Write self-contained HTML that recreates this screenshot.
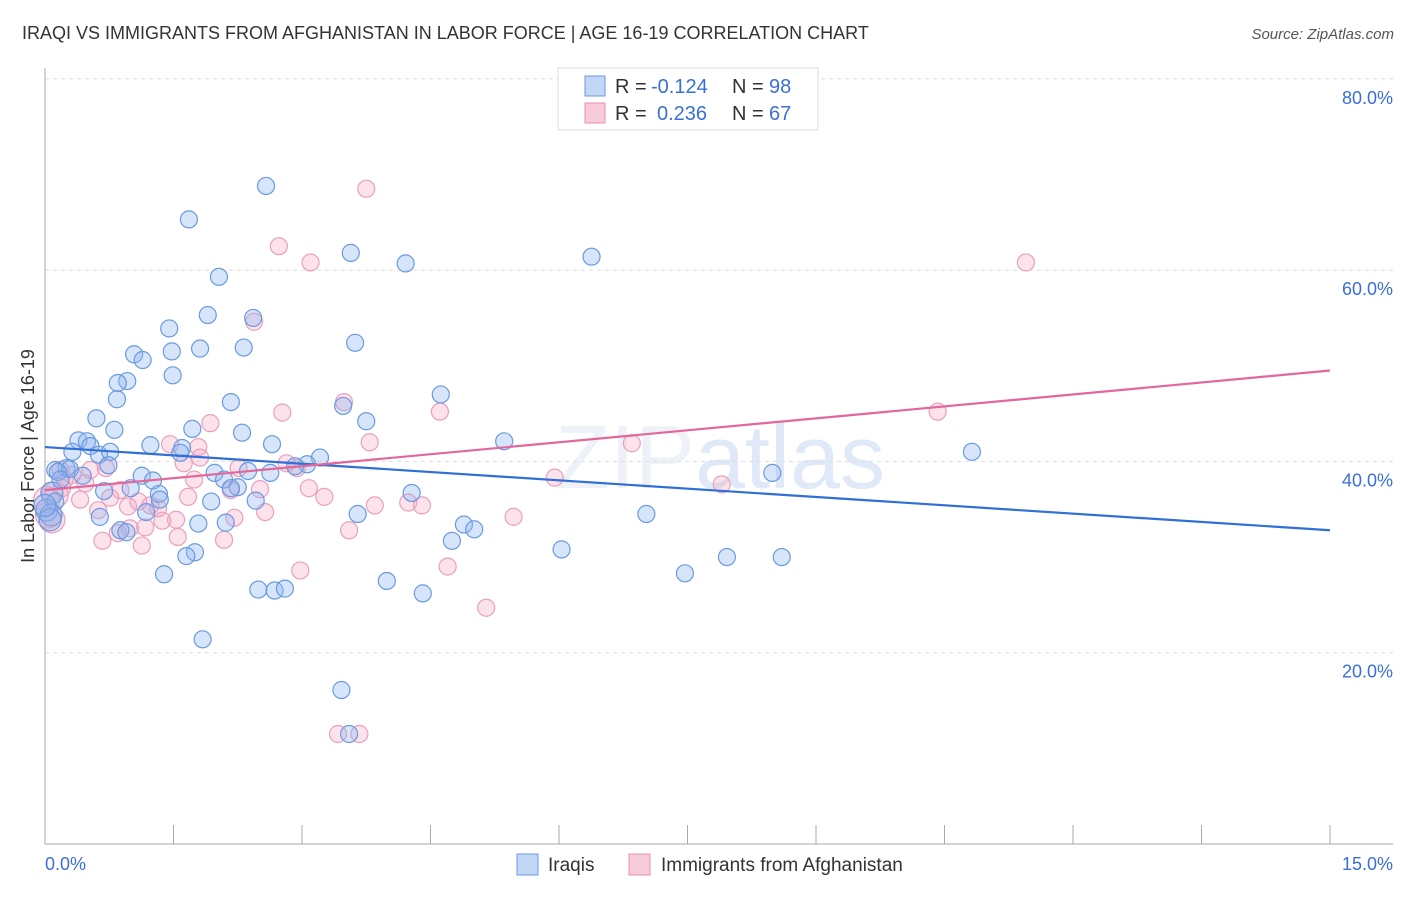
<!DOCTYPE html>
<html><head><meta charset="utf-8"><style>
body{margin:0;background:#fff;font-family:"Liberation Sans",sans-serif;}
svg text{font-family:"Liberation Sans",sans-serif;}
</style></head><body>
<svg id="chart" width="1406" height="892" xmlns="http://www.w3.org/2000/svg">
<text x="22" y="39" font-size="18" fill="#333">IRAQI VS IMMIGRANTS FROM AFGHANISTAN IN LABOR FORCE | AGE 16-19 CORRELATION CHART</text>
<text x="1394" y="39" font-size="15" fill="#555" text-anchor="end" font-style="italic">Source: ZipAtlas.com</text>
<text x="720" y="488" font-size="90" fill="#eef2f8" text-anchor="middle" font-family="Liberation Serif">ZIP<tspan fill="#dfe9f7" font-family="Liberation Sans">atlas</tspan></text>
<g id="grid"></g>
<g id="axes"></g>
<g id="marks"></g>
<g>
<rect x="558" y="68" width="260" height="62" fill="#fff" stroke="#ddd"/>
<rect x="585" y="76" width="20" height="20" fill="#c2d6f6" stroke="#6a9ae0"/>
<text x="615" y="93" font-size="20" fill="#333">R =</text>
<text x="651" y="93" font-size="20" fill="#3a6fd8">-0.124</text>
<text x="732" y="93" font-size="20" fill="#333">N =</text>
<text x="769" y="93" font-size="20" fill="#3a6fd8">98</text>
<rect x="585" y="103" width="20" height="20" fill="#f8cbd9" stroke="#e890b0"/>
<text x="615" y="120" font-size="20" fill="#333">R =</text>
<text x="657" y="120" font-size="20" fill="#3a6fd8">0.236</text>
<text x="732" y="120" font-size="20" fill="#333">N =</text>
<text x="769" y="120" font-size="20" fill="#3a6fd8">67</text>
</g>
<g>
<rect x="517" y="854" width="21" height="21" fill="#c2d6f6" stroke="#6a9ae0"/>
<text x="548" y="871" font-size="19" fill="#333">Iraqis</text>
<rect x="629" y="854" width="21" height="21" fill="#f8cbd9" stroke="#e890b0"/>
<text x="661" y="871" font-size="19" fill="#333">Immigrants from Afghanistan</text>
</g>
<text transform="translate(34,456) rotate(-90)" font-size="18" fill="#333" text-anchor="middle">In Labor Force | Age 16-19</text>
</svg>
<script>
const yTicks=[20,40,60,80];
const yTickLabels=["20.0%","40.0%","60.0%","80.0%"];
const xTicks=[0,1.5,3,4.5,6,7.5,9,10.5,12,13.5,15];
const iraqX=[2.58,1.68,3.57,4.21,6.38,2.03,1.90,2.43,1.45,3.62,2.32,1.04,1.81,1.48,1.14,0.96,1.49,0.85,0.84,4.62,2.17,3.48,3.75,0.60,2.30,0.81,0.39,0.49,0.53,1.23,1.60,1.58,1.72,2.65,5.36,10.82,0.32,0.63,0.76,0.25,0.12,0.29,0.15,0.44,0.74,1.13,3.21,3.06,2.92,1.26,1.98,2.09,2.37,2.63,1.00,0.69,2.25,2.17,1.33,0.08,8.49,4.28,0.12,0.02,1.34,1.18,0.64,1.94,2.46,3.65,0.88,0.95,1.79,2.11,4.89,5.01,7.02,4.75,6.03,1.75,1.65,7.96,8.60,1.39,7.47,3.99,2.49,2.68,2.80,4.41,1.84,3.46,3.55,0.07,0.06,0.0,0.18];
const iraqY=[68.8,65.3,61.8,60.7,61.4,59.3,55.3,55.0,53.9,52.4,51.9,51.2,51.8,51.5,50.6,48.4,49.0,48.2,46.5,47.0,46.2,45.8,44.2,44.5,43.0,43.3,42.2,42.1,41.6,41.7,41.4,40.9,43.4,41.8,42.1,41.0,41.0,40.7,41.0,39.3,39.1,39.2,38.9,38.5,39.6,38.5,40.4,39.7,39.5,38.0,38.8,38.1,39.0,38.8,37.2,36.9,37.3,37.2,36.6,36.7,38.8,36.7,35.8,34.9,36.0,34.7,34.2,35.8,35.9,34.5,32.8,32.6,33.5,33.6,33.4,32.9,34.5,31.7,30.8,30.5,30.1,30.0,30.0,28.2,28.3,27.5,26.6,26.5,26.7,26.2,21.4,16.1,11.5,34.4,33.9,35.4,38.1];
const afgX=[3.75,2.73,3.10,11.45,2.44,1.93,2.77,3.49,4.61,10.42,3.79,6.85,1.46,1.79,1.62,1.81,2.26,2.82,2.94,0.53,0.71,0.18,0.32,0.23,0.47,0.88,2.51,5.95,7.90,1.74,3.08,3.26,1.67,2.17,0.41,0.76,1.09,1.23,1.32,3.85,4.24,4.40,5.47,2.57,2.21,1.53,1.37,0.97,0.62,0.99,1.17,3.55,0.85,2.09,1.55,0.67,1.13,4.70,2.98,5.15,3.42,3.67,0.08,0.04,0.12,0.02,0.20];
const afgY=[68.5,62.5,60.8,60.8,54.6,44.0,45.1,46.2,45.2,45.2,42.0,41.9,41.8,41.5,39.8,40.4,39.3,39.8,39.3,39.1,39.3,39.1,38.6,38.1,37.7,37.0,37.1,38.3,37.6,38.1,37.2,36.3,36.3,37.0,36.0,36.2,35.8,35.4,35.1,35.4,35.7,35.4,34.2,34.7,34.1,33.9,33.8,35.3,34.9,33.0,33.1,32.8,32.5,31.8,32.1,31.7,31.2,29.0,28.6,24.7,11.5,11.5,33.9,34.4,36.5,36.0,37.2];
const iraqTrend=[41.5,32.8];
const afgTrend=[37.0,49.5];
const NS="http://www.w3.org/2000/svg";
const xs=v=>45+v/15*1285;
const ys=v=>844-v*9.565;
function mk(tag,attrs,parent){const e=document.createElementNS(NS,tag);for(const k in attrs)e.setAttribute(k,attrs[k]);document.getElementById(parent).appendChild(e);return e;}
yTicks.forEach((t,i)=>{
 const l=mk('line',{x1:45,x2:1393,y1:ys(t),y2:ys(t),stroke:'#ddd','stroke-dasharray':'4,4'},'grid');
 
 
 const tx=mk('text',{x:1393,y:ys(t)+25,'font-size':18,fill:'#3a6fd8','text-anchor':'end'},'grid');
 tx.textContent=yTickLabels[i];
 
 
});
const ax=mk('line',{x1:45,x2:45,y1:68,y2:844,stroke:'#aaa'},'axes');


const bx=mk('line',{x1:45,x2:1393,y1:844,y2:844,stroke:'#aaa'},'axes');


xTicks.forEach(t=>{const l=mk('line',{x1:xs(t),x2:xs(t),y1:825,y2:844,stroke:'#aaa'},'axes');
 
 });
const x0=mk('text',{x:45,y:870,'font-size':18,fill:'#3a6fd8'},'axes');x0.textContent='0.0%';


const x1=mk('text',{x:1393,y:870,'font-size':18,fill:'#3a6fd8','text-anchor':'end'},'axes');x1.textContent='15.0%';


afgX.forEach((x,i)=>{const r=(x<0.15)?13:8.5;const c=mk('circle',{cx:xs(x),cy:ys(afgY[i]),r:r,fill:'rgba(244,160,190,0.3)',stroke:'#eaa0bc','stroke-width':1.2},'marks');
 
 });
iraqX.forEach((x,i)=>{const r=(x<0.1)?11:8.5;const c=mk('circle',{cx:xs(x),cy:ys(iraqY[i]),r:r,fill:'rgba(140,180,240,0.35)',stroke:'#6a9ae0','stroke-width':1.2},'marks');
 
 });
const t1=mk('line',{x1:xs(0),x2:xs(15),y1:ys(iraqTrend[0]),y2:ys(iraqTrend[1]),stroke:'#2f6fd6','stroke-width':2.2},'marks');


const t2=mk('line',{x1:xs(0),x2:xs(15),y1:ys(afgTrend[0]),y2:ys(afgTrend[1]),stroke:'#e2679a','stroke-width':2.2},'marks');


</script>
</body></html>
